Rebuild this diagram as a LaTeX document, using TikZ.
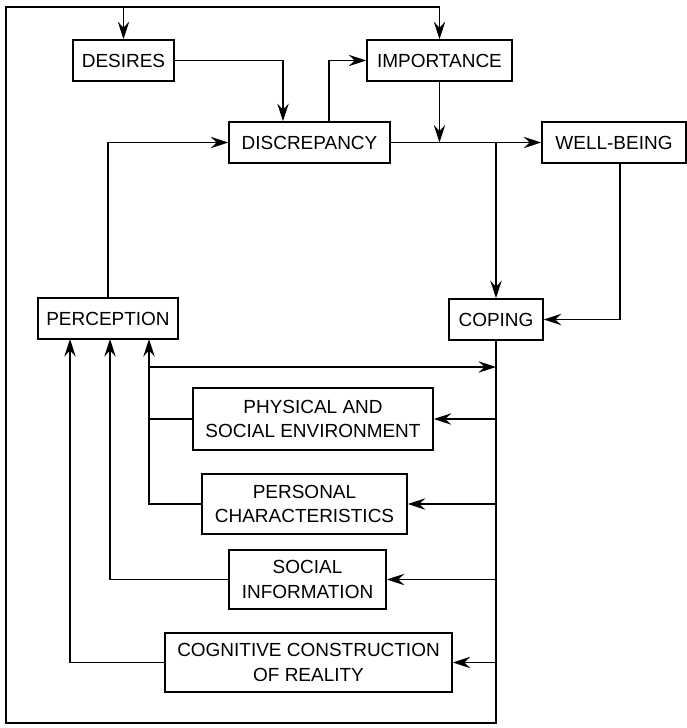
\documentclass[tikz,border=0pt]{standalone}
\usepackage{fontspec}
\setmainfont{Liberation Sans}
\usetikzlibrary{arrows.meta}

\begin{document}
\begin{tikzpicture}[x=0.02cm,y=-0.02cm,
    box/.style={draw,line width=0.9pt,inner sep=0pt,align=center,
      minimum height=0.82cm,font=\fontsize{10.8}{14}\selectfont},
    flow/.style={line width=0.8pt,-{Stealth[length=10pt,width=6.5pt,inset=3.5pt]}},
    link/.style={line width=0.8pt}]
  \useasboundingbox (0,0) rectangle (687,728);

  % Upper row: DESIRES, IMPORTANCE
  \node[box,minimum width=2.02cm] (desires) at (123.5,60.5) {DESIRES};
  \node[box,minimum width=2.90cm] (importance) at (439.5,60.5) {IMPORTANCE};

  % Middle row: DISCREPANCY, WELL-BEING
  \node[box,minimum width=3.22cm] (discrepancy) at (309.5,142.5) {DISCREPANCY};
  \node[box,minimum width=2.88cm] (wellbeing) at (614,142.5) {WELL-BEING};

  % PERCEPTION and COPING
  \node[box,minimum width=2.80cm] (perception) at (108,318.5) {PERCEPTION};
  \node[box,minimum width=1.88cm] (coping) at (496,319.5) {COPING};

  % Sources of perception
  \node[box,minimum width=4.80cm,minimum height=1.24cm] (physical) at (313,419)
    {PHYSICAL AND\\SOCIAL ENVIRONMENT};
  \node[box,minimum width=4.10cm,minimum height=1.20cm] (personal) at (304.5,504)
    {PERSONAL\\CHARACTERISTICS};
  \node[box,minimum width=3.14cm,minimum height=1.18cm] (social) at (307.5,579.5)
    {SOCIAL\\INFORMATION};
  \node[box,minimum width=5.74cm,minimum height=1.18cm] (cognitive) at (308.5,662.5)
    {COGNITIVE CONSTRUCTION\\OF REALITY};

  % Corners of the outer loop and feet of the perception arrows
  \coordinate (loopbl) at (6,723);
  \coordinate (looptl) at (6,7);
  \coordinate (pfoot1) at (70,339);
  \coordinate (pfoot2) at (110,339);
  \coordinate (pfoot3) at (149,339);
  \coordinate (pbranch) at (149,367);
  \coordinate (wbout) at (620,163);

  % Outer loop from COPING back to the top
  \draw[link] (coping.south) |- (loopbl) -- (looptl) -- (importance.north |- looptl);
  \draw[flow] (importance.north |- looptl) -- (importance.north);
  \draw[flow] (desires.north |- looptl) -- (desires.north);

  % Upper part
  \draw[flow] (desires.east) -| ([xshift=-0.53cm]discrepancy.north);
  \draw[flow] ([xshift=0.39cm]discrepancy.north) |- (importance.west);
  \draw[flow] (discrepancy.east) -- (wellbeing.west);
  \draw[flow] (importance.south) -- (importance.south |- discrepancy.east);
  \draw[flow] (coping.north |- discrepancy.east) -- (coping.north);
  \draw[flow] (wbout) |- (coping.east);
  \draw[flow] (perception.north) |- (discrepancy.west);

  % Into PERCEPTION
  \draw[flow] (cognitive.west) -| (pfoot1);
  \draw[flow] (social.west) -| (pfoot2);
  \draw[flow] (personal.west) -| (pfoot3);
  \draw[link] (physical.west) -- (physical.west -| pfoot3);
  \draw[flow] (pbranch) -- (pbranch -| coping.south);

  % From COPING to the sources
  \draw[flow] (physical.east -| coping.south) -- (physical.east);
  \draw[flow] (personal.east -| coping.south) -- (personal.east);
  \draw[flow] (social.east -| coping.south) -- (social.east);
  \draw[flow] (cognitive.east -| coping.south) -- (cognitive.east);
\end{tikzpicture}
\end{document}
